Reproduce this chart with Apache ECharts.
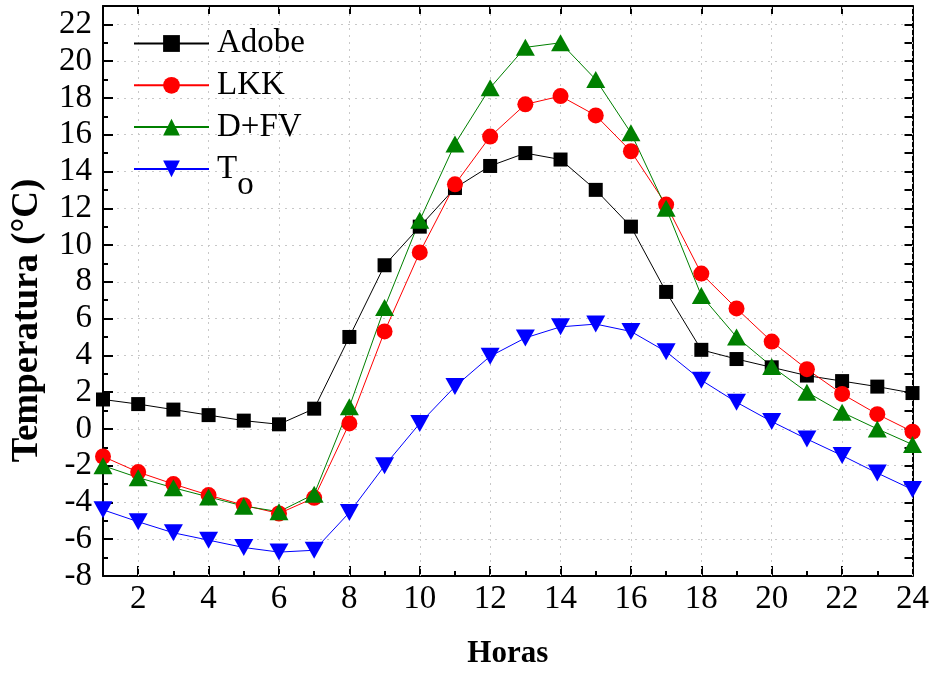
<!DOCTYPE html>
<html>
<head>
<meta charset="utf-8">
<script src="https://cdn.jsdelivr.net/npm/echarts@6/dist/echarts.min.js"></script>
<style>
  html, body { margin: 0; padding: 0; background: #fff; }
  #chart { width: 932px; height: 674px; }
</style>
</head>
<body>
<div id="chart"></div>
<script>
// Hourly temperatures (°C) for each model and the outdoor temperature T_o
const hours = [1,2,3,4,5,6,7,8,9,10,11,12,13,14,15,16,17,18,19,20,21,22,23,24];
const adobe = [1.6,1.35,1.05,0.75,0.45,0.25,1.1,5.0,8.9,11.0,13.1,14.3,15.0,14.65,13.0,11.0,7.45,4.3,3.8,3.35,2.9,2.6,2.3,1.95];
const lkk   = [-1.5,-2.35,-3.0,-3.6,-4.15,-4.6,-3.75,0.3,5.3,9.6,13.3,15.9,17.65,18.1,17.05,15.1,12.2,8.45,6.55,4.75,3.25,1.9,0.8,-0.15];
const dfv   = [-2.0,-2.65,-3.2,-3.7,-4.2,-4.5,-3.55,1.2,6.6,11.35,15.5,18.55,20.75,21.0,19.0,16.1,12.0,7.25,5.0,3.4,2.0,0.9,0.0,-0.85];
const tOut  = [-4.4,-5.05,-5.65,-6.05,-6.45,-6.7,-6.6,-4.55,-2.0,0.3,2.3,3.95,4.95,5.55,5.7,5.3,4.2,2.65,1.45,0.4,-0.55,-1.45,-2.4,-3.3];

// Tick labels
const xTicks = [2,4,6,8,10,12,14,16,18,20,22,24];
const yTicks = [-8,-6,-4,-2,0,2,4,6,8,10,12,14,16,18,20,22];

const FONT = 'Liberation Serif';
const pairs = arr => hours.map((h, i) => [h, arr[i]]);

const gridLine = { color: '#c8c8c8', width: 1, type: [2, 5] };
const axisBlack = { show: true, onZero: false, lineStyle: { color: '#000', width: 2 } };
const noLine = { show: false, onZero: false };

const chart = echarts.init(document.getElementById('chart'), null, { renderer: 'canvas' });

// Every legend label uses the same tall box so the subscript fits without
// changing the row spacing.
const legendText = { fontFamily: FONT, fontSize: 33, color: '#000', lineHeight: 40 };

chart.setOption({
  animation: false,
  backgroundColor: '#fff',
  grid: { left: 103, right: 19, top: 6, bottom: 97, containLabel: false },
  legend: {
    data: ['Adobe', 'LKK', 'D+FV', 'To'],
    orient: 'vertical',
    left: 128,
    top: 6,
    padding: 5,
    itemWidth: 75,
    itemHeight: 21,
    itemGap: -23.2,
    // "To" is written as T with a subscript o
    formatter: name => name === 'To' ? '{m|T}{s|o}' : '{m|' + name + '}',
    textStyle: {
      fontFamily: FONT, fontSize: 33, color: '#000', lineHeight: 40,
      rich: {
        m: Object.assign({ padding: [16, 0, 16, 3] }, legendText),
        s: Object.assign({ padding: [32, 0, 0, 0] }, legendText)
      }
    }
  },
  xAxis: [
    {
      type: 'value', position: 'bottom', min: 1, max: 24,
      name: 'Horas', nameLocation: 'middle', nameGap: 62,
      nameTextStyle: { fontFamily: FONT, fontSize: 31, fontWeight: 'bold', color: '#000' },
      axisLine: axisBlack,
      axisTick: { show: true, inside: true, length: 10, customValues: xTicks, lineStyle: { color: '#000', width: 2 } },
      axisLabel: { customValues: xTicks, margin: 7, fontFamily: FONT, fontSize: 33, color: '#000' },
      splitLine: { show: false }
    },
    {
      type: 'value', position: 'bottom', min: 1, max: 24, interval: 1,
      axisLine: noLine,
      axisTick: { show: true, inside: true, length: 5, lineStyle: { color: '#000', width: 2 } },
      axisLabel: { show: false },
      splitLine: { show: false }
    },
    {
      type: 'value', position: 'top', min: 1, max: 24,
      axisLine: axisBlack,
      axisTick: { show: true, inside: true, length: 8, customValues: xTicks, lineStyle: { color: '#000', width: 2 } },
      axisLabel: { show: false },
      splitLine: { show: false }
    }
  ],
  yAxis: [
    {
      type: 'value', position: 'left', min: -8, max: 23, interval: 2,
      name: 'Temperatura (°C)', nameLocation: 'middle', nameGap: 57,
      nameTextStyle: { fontFamily: FONT, fontSize: 37, fontWeight: 'bold', color: '#000', padding: [0, 59, 0, 0] },
      axisLine: axisBlack,
      axisTick: { show: true, inside: true, length: 10, lineStyle: { color: '#000', width: 2 } },
      axisLabel: {
        margin: 11, fontFamily: FONT, fontSize: 33, color: '#000',
        formatter: v => yTicks.indexOf(v) >= 0 ? String(v) : ''
      },
      splitLine: { show: true, lineStyle: gridLine }
    },
    {
      type: 'value', position: 'left', min: -8, max: 23, interval: 1,
      axisLine: noLine,
      axisTick: { show: true, inside: true, length: 5, lineStyle: { color: '#000', width: 2 } },
      axisLabel: { show: false },
      splitLine: { show: false }
    },
    {
      type: 'value', position: 'right', min: -8, max: 23, interval: 1,
      axisLine: axisBlack,
      axisTick: { show: true, inside: true, length: 8, lineStyle: { color: '#000', width: 2 } },
      axisLabel: { show: false },
      splitLine: { show: false }
    }
  ],
  series: [
    {
      name: 'Adobe', type: 'line', data: pairs(adobe),
      symbol: 'rect', symbolSize: 14,
      itemStyle: { color: '#000' }, lineStyle: { color: '#000', width: 1 },
      markLine: {
        silent: true, symbol: 'none', z: 1, animation: false,
        label: { show: false },
        lineStyle: gridLine,
        data: xTicks.map(v => ({ xAxis: v }))
      }
    },
    {
      name: 'LKK', type: 'line', data: pairs(lkk),
      symbol: 'circle', symbolSize: 16,
      itemStyle: { color: '#ff0000' }, lineStyle: { color: '#ff0000', width: 1 }
    },
    {
      name: 'D+FV', type: 'line', data: pairs(dfv),
      symbol: 'triangle', symbolSize: [19, 17],
      itemStyle: { color: '#008000' }, lineStyle: { color: '#008000', width: 1 }
    },
    {
      name: 'To', type: 'line', data: pairs(tOut),
      symbol: 'triangle', symbolRotate: 180, symbolSize: [19, 17],
      itemStyle: { color: '#0000ff' }, lineStyle: { color: '#0000ff', width: 1 }
    }
  ]
});
</script>
</body>
</html>
